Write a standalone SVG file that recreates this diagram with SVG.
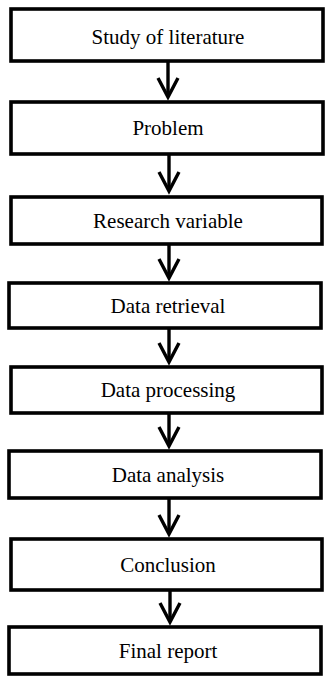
<svg xmlns="http://www.w3.org/2000/svg" width="325" height="679" viewBox="0 0 325 679">
<style>
.box{fill:#fff;stroke:#000;stroke-width:3.6}
.lbl{font-family:"Liberation Serif","Times New Roman",serif;font-size:21px;fill:#000;text-anchor:middle}
.conn{stroke:#000;stroke-width:3.4;fill:none}
</style>
<defs>
<marker id="ah" markerUnits="userSpaceOnUse" markerWidth="30" markerHeight="30" viewBox="-25 -15 30 30" refX="0" refY="0" orient="auto" overflow="visible">
<path d="M-19,-10 L0,0 L-19,10" fill="none" stroke="#000" stroke-width="3.4" stroke-linejoin="miter"/>
</marker>
</defs>
<rect width="325" height="679" fill="#fff"/>
<g id="n1"><rect class="box" x="11" y="9" width="312" height="52"/><text class="lbl" x="168" y="44">Study of literature</text></g>
<g id="n2"><rect class="box" x="11" y="102" width="312" height="52"/><text class="lbl" x="168" y="135">Problem</text></g>
<g id="n3"><rect class="box" x="11" y="197" width="311" height="47"/><text class="lbl" x="168" y="228">Research variable</text></g>
<g id="n4"><rect class="box" x="9" y="283" width="312" height="45"/><text class="lbl" x="168" y="313">Data retrieval</text></g>
<g id="n5"><rect class="box" x="11" y="367" width="311" height="46"/><text class="lbl" x="168" y="397">Data processing</text></g>
<g id="n6"><rect class="box" x="9" y="451" width="312" height="47"/><text class="lbl" x="168" y="482">Data analysis</text></g>
<g id="n7"><rect class="box" x="11" y="539" width="311" height="51"/><text class="lbl" x="168" y="572">Conclusion</text></g>
<g id="n8"><rect class="box" x="9" y="627" width="312" height="47"/><text class="lbl" x="168" y="658">Final report</text></g>
<g id="connectors">
<line class="conn" x1="168" y1="61" x2="168" y2="97" marker-end="url(#ah)"/>
<line class="conn" x1="169" y1="154" x2="169" y2="191" marker-end="url(#ah)"/>
<line class="conn" x1="169" y1="244" x2="169" y2="278" marker-end="url(#ah)"/>
<line class="conn" x1="169" y1="328" x2="169" y2="362" marker-end="url(#ah)"/>
<line class="conn" x1="169" y1="413" x2="169" y2="446" marker-end="url(#ah)"/>
<line class="conn" x1="169" y1="498" x2="169" y2="534" marker-end="url(#ah)"/>
<line class="conn" x1="170" y1="590" x2="170" y2="622" marker-end="url(#ah)"/>
</g>
</svg>
